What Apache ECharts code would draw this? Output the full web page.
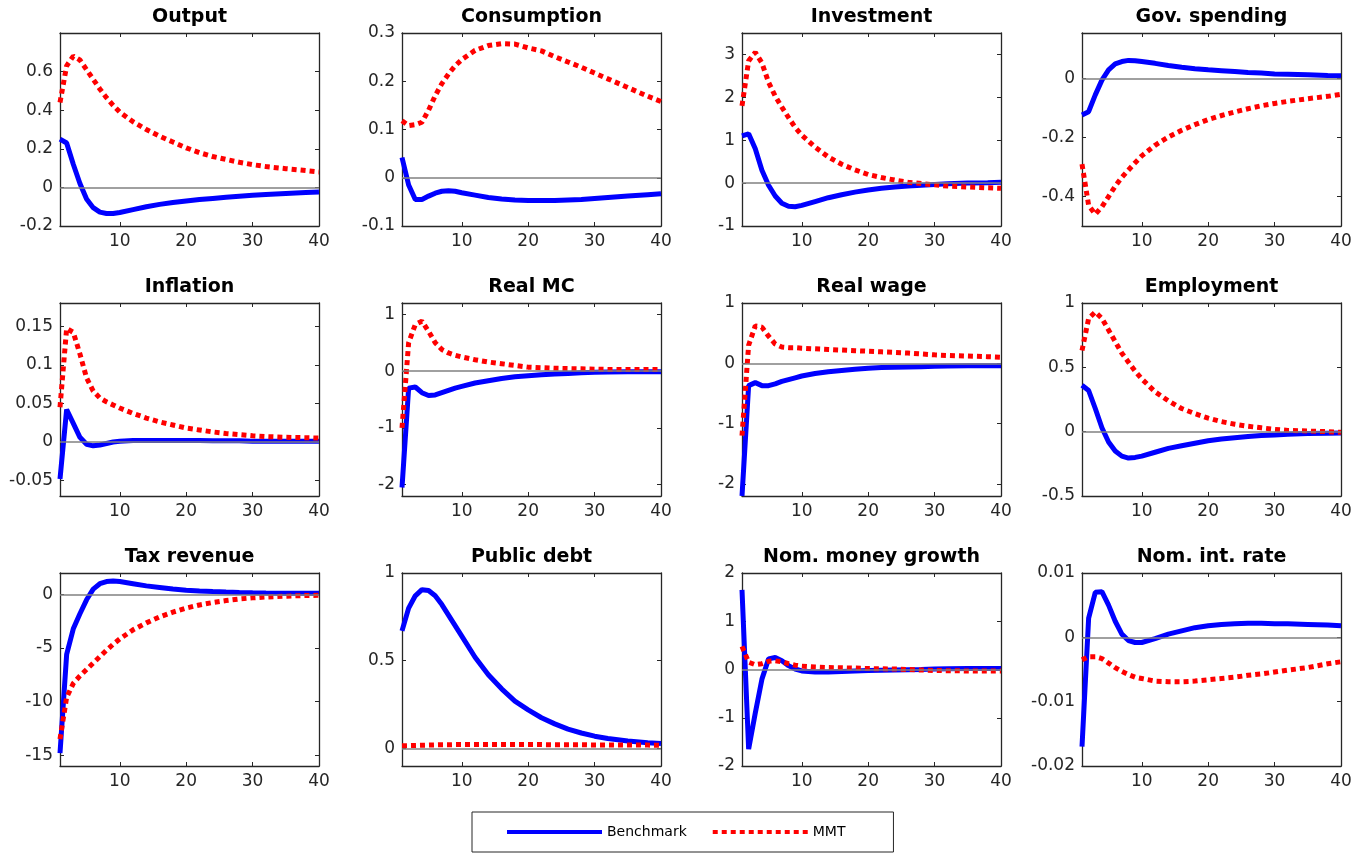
<!DOCTYPE html>
<html>
<head>
    <meta charset="utf-8">
    <title>IRF panels</title>
    <style>
        html, body { margin: 0; padding: 0; background: #fff; }
        #charts { width: 1367px; height: 856px; }
    </style>
</head>
<body>
<div id="charts"></div>

<script src="https://cdn.jsdelivr.net/npm/echarts@6/dist/echarts.min.js"></script>
<script>
    // horizon (quarters) at which the responses are read
    var periods = [1, 2, 3, 4, 5, 6, 7, 8, 9, 10, 12, 14, 16, 18, 20, 22, 24, 26, 28, 30, 32, 35, 38, 40];
    var xTicks = [10, 20, 30, 40];

    var titles = ['Output', 'Consumption', 'Investment', 'Gov. spending',
        'Inflation', 'Real MC', 'Real wage', 'Employment',
        'Tax revenue', 'Public debt', 'Nom. money growth', 'Nom. int. rate'];

    var outputBench = [0.25, 0.23, 0.12, 0.02, -0.06, -0.105, -0.128, -0.135, -0.135, -0.13, -0.115, -0.1, -0.088, -0.078, -0.07, -0.063, -0.057, -0.051, -0.046, -0.041, -0.037, -0.032, -0.027, -0.024];
    var outputMmt = [0.44, 0.63, 0.68, 0.66, 0.61, 0.56, 0.51, 0.465, 0.425, 0.39, 0.34, 0.30, 0.265, 0.235, 0.205, 0.18, 0.16, 0.145, 0.13, 0.118, 0.108, 0.097, 0.087, 0.08];

    var consBench = [0.042, -0.015, -0.045, -0.045, -0.038, -0.032, -0.028, -0.027, -0.028, -0.031, -0.036, -0.041, -0.044, -0.046, -0.047, -0.047, -0.047, -0.046, -0.045, -0.043, -0.041, -0.038, -0.035, -0.033];
    var consMmt = [0.118, 0.108, 0.11, 0.115, 0.14, 0.17, 0.195, 0.215, 0.232, 0.245, 0.264, 0.274, 0.278, 0.277, 0.269, 0.263, 0.251, 0.24, 0.229, 0.217, 0.205, 0.187, 0.169, 0.158];

    var invBench = [1.1, 1.15, 0.8, 0.3, -0.05, -0.3, -0.47, -0.54, -0.55, -0.52, -0.43, -0.34, -0.27, -0.21, -0.16, -0.12, -0.09, -0.07, -0.05, -0.03, -0.015, 0, 0.01, 0.02];
    var invMmt = [1.8, 2.85, 3.05, 2.8, 2.35, 2.03, 1.77, 1.53, 1.3, 1.12, 0.84, 0.61, 0.44, 0.31, 0.2, 0.13, 0.07, 0.02, -0.01, -0.04, -0.07, -0.09, -0.11, -0.12];

    var govBench = [-0.123, -0.112, -0.055, -0.005, 0.03, 0.05, 0.058, 0.062, 0.061, 0.058, 0.052, 0.045, 0.039, 0.034, 0.03, 0.027, 0.024, 0.021, 0.019, 0.016, 0.015, 0.013, 0.011, 0.01];
    var govMmt = [-0.29, -0.43, -0.46, -0.435, -0.4, -0.365, -0.335, -0.31, -0.285, -0.262, -0.226, -0.198, -0.175, -0.156, -0.139, -0.125, -0.113, -0.102, -0.092, -0.084, -0.077, -0.068, -0.06, -0.053];

    var inflBench = [-0.048, 0.042, 0.024, 0.006, -0.003, -0.005, -0.004, -0.002, 0, 0.001, 0.002, 0.002, 0.002, 0.002, 0.002, 0.002, 0.0015, 0.0015, 0.0015, 0.001, 0.001, 0.001, 0.001, 0.001];
    var inflMmt = [0.045, 0.147, 0.142, 0.114, 0.083, 0.066, 0.057, 0.052, 0.048, 0.044, 0.037, 0.031, 0.026, 0.022, 0.018, 0.0155, 0.013, 0.011, 0.0095, 0.008, 0.007, 0.006, 0.0055, 0.005];

    var mcBench = [-2.05, -0.3, -0.28, -0.38, -0.43, -0.42, -0.38, -0.34, -0.3, -0.27, -0.21, -0.17, -0.13, -0.1, -0.08, -0.065, -0.05, -0.04, -0.03, -0.02, -0.015, -0.01, -0.01, -0.01];
    var mcMmt = [-1.0, 0.5, 0.82, 0.88, 0.7, 0.5, 0.38, 0.32, 0.28, 0.25, 0.2, 0.16, 0.13, 0.1, 0.07, 0.06, 0.05, 0.045, 0.04, 0.035, 0.03, 0.03, 0.03, 0.03];

    var wageBench = [-2.2, -0.37, -0.32, -0.37, -0.37, -0.34, -0.3, -0.27, -0.24, -0.21, -0.17, -0.14, -0.12, -0.1, -0.08, -0.07, -0.065, -0.06, -0.055, -0.05, -0.045, -0.04, -0.04, -0.04];
    var wageMmt = [-1.2, 0.3, 0.62, 0.6, 0.45, 0.32, 0.27, 0.26, 0.26, 0.25, 0.24, 0.23, 0.22, 0.21, 0.2, 0.19, 0.18, 0.17, 0.155, 0.14, 0.13, 0.12, 0.11, 0.1];

    var empBench = [0.36, 0.32, 0.18, 0.03, -0.08, -0.15, -0.19, -0.205, -0.2, -0.19, -0.16, -0.13, -0.11, -0.09, -0.07, -0.057, -0.047, -0.038, -0.03, -0.025, -0.02, -0.015, -0.012, -0.01];
    var empMmt = [0.63, 0.88, 0.93, 0.88, 0.79, 0.7, 0.61, 0.54, 0.47, 0.41, 0.31, 0.24, 0.18, 0.14, 0.105, 0.078, 0.058, 0.042, 0.03, 0.018, 0.01, 0.005, 0, -0.005];

    var taxBench = [-14.8, -5.6, -3.2, -1.8, -0.5, 0.5, 1.0, 1.2, 1.25, 1.2, 1.0, 0.8, 0.65, 0.5, 0.4, 0.33, 0.27, 0.22, 0.18, 0.15, 0.13, 0.12, 0.11, 0.1];
    var taxMmt = [-13.5, -9.6, -8.3, -7.6, -7.0, -6.4, -5.8, -5.2, -4.65, -4.15, -3.3, -2.65, -2.1, -1.65, -1.27, -0.98, -0.75, -0.57, -0.42, -0.32, -0.24, -0.16, -0.1, -0.08];

    var debtBench = [0.67, 0.8, 0.87, 0.905, 0.9, 0.87, 0.82, 0.76, 0.7, 0.64, 0.52, 0.42, 0.34, 0.27, 0.22, 0.175, 0.14, 0.11, 0.088, 0.07, 0.057, 0.043, 0.033, 0.028];
    var debtMmt = [0.015, 0.016, 0.017, 0.018, 0.019, 0.02, 0.021, 0.021, 0.022, 0.022, 0.022, 0.022, 0.022, 0.022, 0.022, 0.022, 0.021, 0.021, 0.021, 0.02, 0.02, 0.019, 0.019, 0.018];

    var moneyBench = [1.65, -1.65, -0.9, -0.2, 0.22, 0.25, 0.18, 0.08, 0.01, -0.03, -0.05, -0.05, -0.04, -0.03, -0.02, -0.015, -0.01, -0.005, 0, 0.01, 0.015, 0.02, 0.02, 0.02];
    var moneyMmt = [0.48, 0.15, 0.1, 0.12, 0.17, 0.18, 0.16, 0.12, 0.09, 0.07, 0.05, 0.04, 0.035, 0.03, 0.02, 0.015, 0.01, 0, -0.01, -0.02, -0.025, -0.03, -0.03, -0.03];

    var rateBench = [-0.017, 0.003, 0.007, 0.0071, 0.005, 0.0025, 0.0005, -0.0005, -0.0008, -0.0008, -0.0002, 0.0005, 0.001, 0.0015, 0.0018, 0.002, 0.0021, 0.0022, 0.0022, 0.0021, 0.0021, 0.002, 0.0019, 0.0018];
    var rateMmt = [-0.0035, -0.003, -0.003, -0.0033, -0.004, -0.0047, -0.0053, -0.0058, -0.0062, -0.0064, -0.0068, -0.0069, -0.0069, -0.0068, -0.0066, -0.0064, -0.0062, -0.0059, -0.0057, -0.0054, -0.0051, -0.0047, -0.0041, -0.0038];

    // y limits and tick labels per panel
    var yMin = [-0.2, -0.1, -1, -0.5, -0.07, -2.2, -2.2, -0.5, -16, -0.1, -2, -0.02];
    var yMax = [0.8, 0.3, 3.5, 0.155, 0.18, 1.2, 1, 1, 2, 1, 2, 0.01];
    var yTicks = [
        [-0.2, 0, 0.2, 0.4, 0.6],
        [-0.1, 0, 0.1, 0.2, 0.3],
        [-1, 0, 1, 2, 3],
        [-0.4, -0.2, 0],
        [-0.05, 0, 0.05, 0.1, 0.15],
        [-2, -1, 0, 1],
        [-2, -1, 0, 1],
        [-0.5, 0, 0.5, 1],
        [-15, -10, -5, 0],
        [0, 0.5, 1],
        [-2, -1, 0, 1, 2],
        [-0.02, -0.01, 0, 0.01]
    ];

    var benchSeries = [outputBench, consBench, invBench, govBench, inflBench, mcBench, wageBench, empBench, taxBench, debtBench, moneyBench, rateBench];
    var mmtSeries = [outputMmt, consMmt, invMmt, govMmt, inflMmt, mcMmt, wageMmt, empMmt, taxMmt, debtMmt, moneyMmt, rateMmt];

    var myChart = echarts.init(document.getElementById('charts'));

    var font = 'DejaVu Sans, Liberation Sans, Arial, sans-serif';
    var frame = '#262626';
    var lefts = [60, 402, 742, 1082];
    var tops = [33, 303, 573];
    var w = 259, h = 193;

    function pairs(arr) {
        return periods.map(function (p, k) { return [p, arr[k]]; });
    }

    var grids = [], titleList = [], xAxes = [], yAxes = [], series = [];

    for (var i = 0; i < 12; i++) {
        var col = i % 4, row = Math.floor(i / 4);
        grids.push({left: lefts[col], top: tops[row], width: w, height: h});
        titleList.push({
            text: titles[i],
            left: lefts[col] + w / 2,
            top: tops[row] - 25,
            textAlign: 'center',
            padding: 0,
            textStyle: {fontFamily: font, fontSize: 19, fontWeight: 'bold', color: '#000'}
        });

        // bottom / top x axes
        xAxes.push({
            type: 'value', gridIndex: i, min: 1, max: 40, position: 'bottom',
            axisLine: {show: true, onZero: false, lineStyle: {color: frame, width: 1.3}},
            axisTick: {show: true, inside: true, length: 4, customValues: xTicks, lineStyle: {color: frame}},
            axisLabel: {customValues: xTicks, margin: 7, color: frame, fontFamily: font, fontSize: 17},
            splitLine: {show: false}
        });
        xAxes.push({
            type: 'value', gridIndex: i, min: 1, max: 40, position: 'top',
            axisLine: {show: true, onZero: false, lineStyle: {color: frame, width: 1.3}},
            axisTick: {show: true, inside: true, length: 4, customValues: xTicks, lineStyle: {color: frame}},
            axisLabel: {show: false},
            splitLine: {show: false}
        });
        // left / right y axes
        yAxes.push({
            type: 'value', gridIndex: i, min: yMin[i], max: yMax[i], position: 'left',
            axisLine: {show: true, onZero: false, lineStyle: {color: frame, width: 1.3}},
            axisTick: {show: true, inside: true, length: 4, customValues: yTicks[i], lineStyle: {color: frame}},
            axisLabel: {customValues: yTicks[i], margin: 7, color: frame, fontFamily: font, fontSize: 17},
            splitLine: {show: false}
        });
        yAxes.push({
            type: 'value', gridIndex: i, min: yMin[i], max: yMax[i], position: 'right',
            axisLine: {show: true, onZero: false, lineStyle: {color: frame, width: 1.3}},
            axisTick: {show: true, inside: true, length: 4, customValues: yTicks[i], lineStyle: {color: frame}},
            axisLabel: {show: false},
            splitLine: {show: false}
        });

        series.push({
            name: 'Benchmark',
            type: 'line',
            xAxisIndex: i * 2,
            yAxisIndex: i * 2,
            symbol: 'none',
            lineStyle: {color: '#0000ff', width: 5},
            itemStyle: {color: '#0000ff'},
            markLine: {
                silent: true,
                symbol: 'none',
                label: {show: false},
                lineStyle: {color: '#808080', width: 1.5, type: 'solid'},
                data: [{yAxis: 0}]
            },
            data: pairs(benchSeries[i])
        });
        series.push({
            name: 'MMT',
            type: 'line',
            xAxisIndex: i * 2,
            yAxisIndex: i * 2,
            symbol: 'none',
            lineStyle: {color: '#ff0000', width: 5, type: [5, 4]},
            itemStyle: {color: '#ff0000'},
            data: pairs(mmtSeries[i])
        });
    }

    var option = {
        backgroundColor: '#fff',
        animation: false,
        title: titleList,
        grid: grids,
        xAxis: xAxes,
        yAxis: yAxes,
        legend: {
            data: ['Benchmark', 'MMT'],
            left: 472,
            top: 812,
            padding: [13, 48, 13, 33],
            itemGap: 24,
            itemWidth: 95,
            itemHeight: 12,
            borderColor: frame,
            borderWidth: 1,
            itemStyle: {opacity: 0},
            lineStyle: {width: 4},
            textStyle: {fontFamily: font, fontSize: 14, color: '#000'}
        },
        series: series
    };
    myChart.setOption(option);
</script>
</body>
</html>
